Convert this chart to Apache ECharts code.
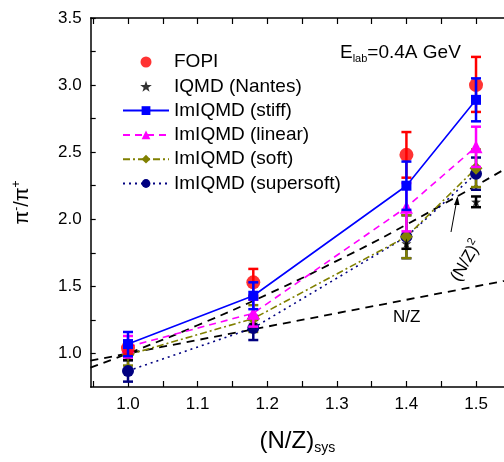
<!DOCTYPE html>
<html>
<head>
<meta charset="utf-8">
<script src="https://cdn.jsdelivr.net/npm/echarts@6/dist/echarts.min.js"></script>
<style>
  html, body { margin: 0; padding: 0; background: #fff; }
  #chart { width: 504px; height: 462px; }
</style>
</head>
<body>
<div id="chart"></div>
<script>
// (N/Z)_sys of the measured systems
const nzSys = [1.0, 1.18, 1.4, 1.5];

// FOPI data with error range
const fopi = [1.04, 1.53, 2.48, 3.0];
const fopiLow = [0.99, 1.43, 2.31, 2.80];
const fopiHigh = [1.09, 1.63, 2.65, 3.21];

// IQMD (Nantes)
const iqmd = [0.98, 1.22, 1.82, 2.13];
const iqmdErr = [0.03, 0.03, 0.04, 0.04];

// ImIQMD calculations
const stiff = [1.07, 1.43, 2.25, 2.89];
const stiffErr = [0.09, 0.10, 0.18, 0.16];
const linear = [1.05, 1.30, 2.09, 2.54];
const linearErr = [0.08, 0.10, 0.18, 0.15];
const soft = [0.99, 1.26, 1.87, 2.38];
const softErr = [0.08, 0.10, 0.16, 0.14];
const supersoft = [0.87, 1.19, 1.87, 2.34];
const supersoftErr = [0.08, 0.09, 0.16, 0.12];

// reference curves N/Z and (N/Z)^2
const nzLine = [[0.946, 0.946], [1.2, 1.2], [1.54, 1.54]];
const nz2Line = [[0.946, 0.895], [1.0, 1.0], [1.1, 1.21], [1.2, 1.44], [1.3, 1.69], [1.4, 1.96], [1.54, 2.37]];

// axis ticks and labels
const xLabels = [1.0, 1.1, 1.2, 1.3, 1.4, 1.5];
const xTicks = [0.95, 1.0, 1.05, 1.1, 1.15, 1.2, 1.25, 1.3, 1.35, 1.4, 1.45, 1.5];
const yLabels = [1.0, 1.5, 2.0, 2.5, 3.0, 3.5];
const yTicks = [1.0, 1.25, 1.5, 1.75, 2.0, 2.25, 2.5, 2.75, 3.0, 3.25, 3.5];

const FONT = '"Liberation Sans", Arial, sans-serif';
const STAR = 'path://M0,-10 L2.35,-3.24 L9.51,-3.09 L3.8,1.24 L5.88,8.09 L0,4 L-5.88,8.09 L-3.8,1.24 L-9.51,-3.09 L-2.35,-3.24 Z';

const pts = vals => nzSys.map((x, i) => [x, vals[i]]);
const bars = (vals, err) => nzSys.map((x, i) => [x, vals[i] - err[i], vals[i] + err[i]]);
const barsLH = (lo, hi) => nzSys.map((x, i) => [x, lo[i], hi[i]]);

// error bar series (vertical line with caps)
function errorSeries(data, color, z) {
    return {
        type: 'custom',
        z: z,
        silent: true,
        data: data,
        encode: { x: 0, y: [1, 2] },
        renderItem: function (params, api) {
            const x = api.value(0);
            const lo = api.coord([x, api.value(1)]);
            const hi = api.coord([x, api.value(2)]);
            const w = 5;
            const style = { stroke: color, lineWidth: 2.5 };
            return {
                type: 'group',
                children: [
                    { type: 'line', shape: { x1: lo[0], y1: lo[1], x2: hi[0], y2: hi[1] }, style: style },
                    { type: 'line', shape: { x1: lo[0] - w, y1: lo[1], x2: lo[0] + w, y2: lo[1] }, style: style },
                    { type: 'line', shape: { x1: hi[0] - w, y1: hi[1], x2: hi[0] + w, y2: hi[1] }, style: style }
                ]
            };
        }
    };
}

function modelSeries(name, vals, color, type, symbol, size, z) {
    return {
        name: name,
        type: 'line',
        z: z,
        data: pts(vals),
        symbol: symbol,
        symbolSize: size,
        lineStyle: { color: color, width: 1.6, type: type },
        itemStyle: { color: color },
        emphasis: { disabled: true }
    };
}

const chart = echarts.init(document.getElementById('chart'));

const option = {
    animation: false,
    textStyle: { fontFamily: FONT },
    grid: { left: 90.7, right: 0, top: 18, bottom: 75, containLabel: false },
    legend: {
        orient: 'vertical',
        left: 117,
        top: 47,
        itemWidth: 46,
        itemHeight: 11,
        itemGap: 4.3,
        selectedMode: false,
        textStyle: { fontSize: 19, color: '#000', fontFamily: FONT, lineHeight: 20 },
        data: ['FOPI', 'IQMD (Nantes)', 'ImIQMD (stiff)', 'ImIQMD (linear)', 'ImIQMD (soft)', 'ImIQMD (supersoft)']
    },
    xAxis: [
        {
            type: 'value',
            min: 0.9464,
            max: 1.5402,
            name: '{a|(N/Z)}{b|sys}',
            nameLocation: 'middle',
            nameGap: 40,
            nameTextStyle: {
                rich: {
                    a: { fontSize: 24, color: '#000', fontFamily: FONT },
                    b: { fontSize: 14, color: '#000', fontFamily: FONT, padding: [14, 0, 0, 0] }
                }
            },
            axisLine: { onZero: false, lineStyle: { color: '#000', width: 1.5 } },
            axisTick: { inside: true, length: 6, customValues: xTicks, lineStyle: { color: '#000', width: 1.2 } },
            axisLabel: { customValues: xLabels, formatter: v => v.toFixed(1), fontSize: 17, color: '#000', margin: 9, fontFamily: FONT },
            splitLine: { show: false }
        },
        {
            type: 'value',
            position: 'top',
            min: 0.9464,
            max: 1.5402,
            axisLine: { onZero: false, lineStyle: { color: '#000', width: 1.5 } },
            axisTick: { inside: true, length: 6, customValues: xTicks, lineStyle: { color: '#000', width: 1.2 } },
            axisLabel: { show: false },
            splitLine: { show: false }
        }
    ],
    yAxis: {
        type: 'value',
        min: 0.75,
        max: 3.5,
        name: '{a|π}{s|-}{a|/π}{s|+}',
        nameLocation: 'middle',
        nameRotate: 90,
        nameGap: 55,
        nameTextStyle: {
            rich: {
                a: { fontSize: 20, color: '#000', fontFamily: FONT, lineHeight: 26 },
                s: { fontSize: 12, color: '#000', fontFamily: FONT, lineHeight: 26, padding: [0, 0, 12, 0] }
            }
        },
        axisLine: { show: true, onZero: false, lineStyle: { color: '#000', width: 1.5 } },
        axisTick: { inside: true, length: 5, customValues: yTicks, lineStyle: { color: '#000', width: 1.2 } },
        axisLabel: { customValues: yLabels, formatter: v => v.toFixed(1), fontSize: 17, color: '#000', margin: 9, fontFamily: FONT },
        splitLine: { show: false }
    },
    graphic: [
        {
            type: 'text',
            left: 340,
            top: 43,
            style: {
                text: '{e|E}{l|lab}{e|=0.4A GeV}',
                rich: {
                    e: { fontSize: 19, fill: '#000', fontFamily: FONT },
                    l: { fontSize: 11, fill: '#000', fontFamily: FONT, padding: [13, 0, 0, 0] }
                }
            }
        },
        {
            type: 'text',
            x: 393,
            y: 309,
            style: { text: 'N/Z', fontSize: 17, fill: '#000', fontFamily: FONT }
        },
        {
            type: 'text',
            x: 446,
            y: 275,
            rotation: 60 * Math.PI / 180,
            style: {
                text: '{a|(N/Z)}{s|2}',
                rich: {
                    a: { fontSize: 17, fill: '#000', fontFamily: FONT },
                    s: { fontSize: 11, fill: '#000', fontFamily: FONT, padding: [0, 0, 10, 0] }
                }
            }
        },
        {
            type: 'line',
            shape: { x1: 451, y1: 232, x2: 457, y2: 199 },
            style: { stroke: '#000', lineWidth: 1 }
        },
        {
            type: 'polygon',
            shape: { points: [[457.5, 196], [454, 205], [459.5, 205]] },
            style: { fill: '#000' }
        }
    ],
    series: [
        {
            name: 'N/Z',
            type: 'line',
            z: 1,
            data: nzLine,
            showSymbol: false,
            lineStyle: { color: '#000', width: 1.8, type: [8, 6] },
            emphasis: { disabled: true }
        },
        {
            name: '(N/Z)^2',
            type: 'line',
            z: 1,
            data: nz2Line,
            smooth: true,
            showSymbol: false,
            lineStyle: { color: '#000', width: 1.8, type: [8, 6] },
            emphasis: { disabled: true }
        },
        errorSeries(bars(supersoft, supersoftErr), '#000080', 2),
        modelSeries('ImIQMD (supersoft)', supersoft, '#000080', [2, 4], 'circle', 12, 3),
        errorSeries(bars(soft, softErr), '#808000', 2),
        modelSeries('ImIQMD (soft)', soft, '#808000', [7, 3, 2, 3], 'diamond', 13, 3),
        errorSeries(bars(iqmd, iqmdErr), '#000', 2),
        {
            name: 'IQMD (Nantes)',
            type: 'scatter',
            z: 3,
            data: pts(iqmd),
            symbol: STAR,
            symbolSize: 10,
            itemStyle: { color: '#000' },
            emphasis: { disabled: true }
        },
        errorSeries(bars(linear, linearErr), '#ff00ff', 4),
        modelSeries('ImIQMD (linear)', linear, '#ff00ff', [7, 5], 'triangle', 13, 4),
        errorSeries(barsLH(fopiLow, fopiHigh), '#ff0000', 5),
        {
            name: 'FOPI',
            type: 'scatter',
            z: 5,
            data: pts(fopi),
            symbol: 'circle',
            symbolSize: 14,
            itemStyle: { color: '#ff0000' },
            emphasis: { disabled: true }
        },
        errorSeries(bars(stiff, stiffErr), '#0000ff', 6),
        modelSeries('ImIQMD (stiff)', stiff, '#0000ff', 'solid', 'rect', 10, 6)
    ]
};

chart.setOption(option);
</script>
</body>
</html>
